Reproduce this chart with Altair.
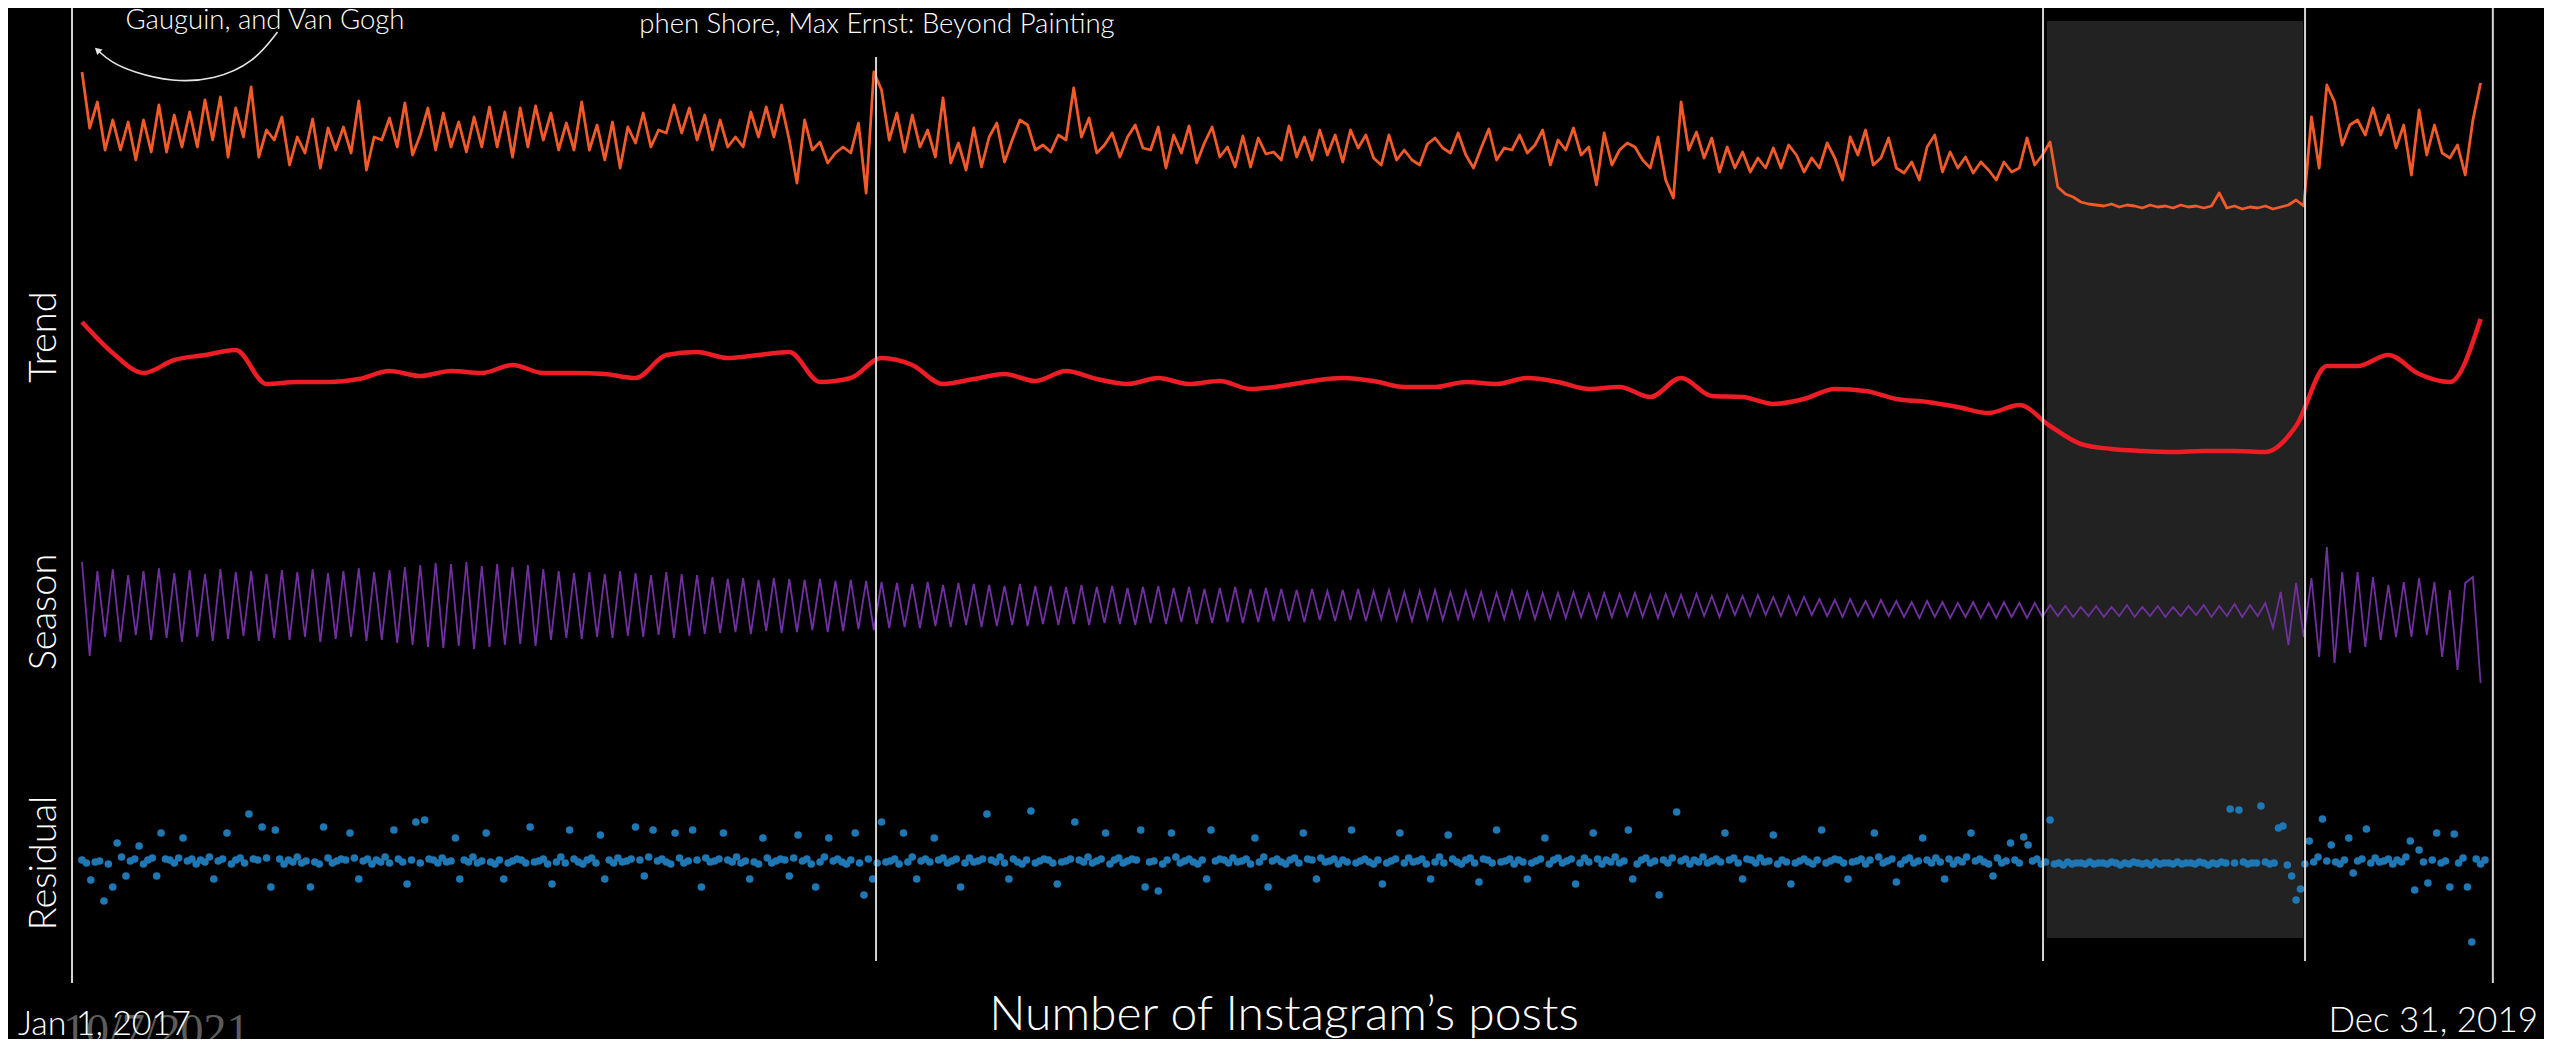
import altair as alt
import pandas as pd

# ---------------- data ----------------
START = pd.Timestamp("2017-01-01")

# observed daily posts, sampled every 3.5 days (index units: posts, arbitrary scale)
observed = [
    148, 92, 118, 70, 100, 70, 98, 60, 100, 68,
    115, 68, 105, 73, 108, 73, 120, 80, 123, 63,
    112, 83, 133, 63, 90, 80, 103, 55, 83, 67,
    101, 52, 92, 70, 93, 67, 119, 50, 83, 80,
    102, 73, 117, 65, 85, 112, 70, 107, 73, 98,
    68, 103, 73, 113, 73, 108, 63, 112, 73, 114,
    80, 107, 70, 97, 70, 118, 70, 95, 60, 98,
    52, 93, 77, 107, 73, 90, 87, 115, 87, 112,
    80, 105, 70, 100, 73, 83, 73, 108, 83, 113,
    83, 115, 80, 37, 100, 70, 78, 57, 67, 73,
    67, 97, 27, 148, 130,
    80, 107, 68, 105, 73, 90, 63, 122, 57, 77,
    50, 92, 53, 83, 97, 58, 80, 100, 95, 70,
    75, 68, 85, 80, 132, 83, 102, 67, 75, 87,
    63, 83, 95, 72, 70, 93, 52, 85, 67, 94,
    57, 77, 93, 63, 73, 53, 84, 53, 82, 66,
    68, 60, 94, 63, 83, 60, 90, 65, 85, 58,
    90, 72, 85, 62, 55, 85, 60, 70, 60, 55,
    76, 82, 72, 67, 87, 65, 52, 72, 91, 60,
    72, 70, 85, 67, 75, 90, 55, 80, 70, 92,
    65, 73, 35, 87, 55, 70, 77, 73, 60, 52,
    83, 40, 22, 118, 70,
    88, 62, 82, 48, 73, 52, 68, 48, 62, 52,
    72, 52, 75, 65, 48, 62, 52, 77, 62, 40,
    83, 65, 90, 55, 62, 82, 52, 47, 58, 40,
    73, 85, 48, 68, 52, 63, 47, 58, 50, 40,
    58, 48, 52, 82, 55, 65, 78, 33, 26, 23,
    18, 16, 15, 14, 16, 13, 15, 14, 12, 15,
    13, 14, 12, 15, 13, 14, 12, 14, 27, 12,
    14, 11, 13, 12, 14, 11, 13, 15, 20, 14,
    103, 52, 135, 118, 75, 95, 100, 85, 112, 85,
    105, 72, 95, 45, 110, 65, 95, 67, 62, 75,
    45, 100, 137,
]

# trend, sampled every 14 days
trend = [
    148, 117, 97, 110, 115, 120, 86, 88, 88, 91,
    99, 94, 99, 97, 105, 97, 97, 96, 92, 115,
    118, 112, 115, 118, 88, 92, 112, 105, 86, 91,
    96, 89, 99, 91, 86, 92, 86, 89, 81, 84,
    89, 92, 89, 83, 83, 88, 86, 92, 88, 81,
    83, 73, 92, 74, 73, 66, 71, 81, 79, 71,
    68, 63, 57, 65, 44, 26, 21, 19, 18, 19,
    19, 18, 44, 104, 104, 115, 96, 88, 151,
]

# weekly seasonal component, peaks / troughs every 3.5 days
season = [
    45, -49, 36, -30, 38, -35, 32, -28, 36, -33, 39, -31, 34, -35, 37, -30, 33, -34, 38, -32,
    35, -29, 36, -34, 33, -31, 37, -33, 35, -30, 38, -35, 34, -32, 36, -30, 39, -34, 35, -33, 37,
    -36, 40, -38, 42, -40, 44, -41, 43, -39, 45, -42, 41, -40, 43, -38, 40, -37, 42, -39, 38,
    -33, 36, -31, 34, -32, 35, -30, 33, -31, 36, -29, 34, -30, 32, -28, 35, -31, 33, -29, 32,
    -27, 30, -26, 28, -25, 29, -27, 27, -24, 29, -26, 28, -25, 27, -23, 28, -25, 26, -24, 27, -22, 26, -23,
    25, -21, 24, -20, 23, -21, 25, -19, 22, -20, 24, -18, 23, -20, 22, -19, 21, -18, 23, -19, 21, -17,
    21, -18, 20, -17, 22, -18, 20, -16, 21, -17, 19, -18, 20, -16, 21, -17, 19, -15, 20, -17,
    18, -16, 19, -15, 20, -16, 18, -15, 19, -14,
    18, -14, 17, -15, 18, -13, 16, -14, 17, -13, 18, -14, 16, -12, 17, -13, 15, -14, 16, -12,
    17, -13, 15, -12, 16, -11, 15, -13, 14, -12, 16, -11, 15, -12, 14,
    -11, 14, -11, 15, -10, 13, -11, 14, -10, 13, -9, 14, -10, 12, -11, 13, -9, 12, -10, 13,
    -9, 11, -10, 12, -8, 11, -9, 12, -8, 10, -9, 11, -8, 10, -8,
    8, -9, 7, -10, 8, -9, 6, -10, 7, -9, 6, -10, 5, -11, 6, -10, 5, -11, 4, -10,
    5, -11, 4, -11, 5, -10, 4, -11, 4, -10,
    2, -9, 1, -10, 0, -9, 1, -10, 0, -9, 2, -10, 0, -9, 1, -10, 0, -9, 1, -8,
    2, -10, 1, -9, 3, -10, 2, -9, 4,
    -21, 15, -38, 24, -30,
    29, -50, 60, -56, 35, -46, 35, -40, 30, -33, 22, -30, 25, -30, 29, -28, 25, -50, 17, -63,
    24, 30, -76,
]

# residuals, every 2 days
residual = [
    1, -2, -19, -1, 0, -40, -3, -26, 18, 4, -15, 0, 2, 15, -3, 1, 3, -15, 28, 2,
    1, -2, 3, 23, 0, 2, -3, 1, -1, 4, -18, 0, 2, 28, -3, 1, 3, -2, 47, 2,
    1, 34, 3, -26, 31, 2, -3, 1, -1, 4, -2, 0, -26, -1, -3, 34, 3, -2, 0, 2,
    1, 28, 3, -18, 0, 2, -3, 1, -1, 4, -2, 31, 2, -1, -23, 1, 39, -2, 41, 2,
    1, -2, 3, -1, 0, 23, -18, 1, -1, 4, -2, 0, 28, -1, -3, 1, -18, -2, 0, 2,
    1, -2, 34, -1, 0, 2, -3, -23, -1, 4, -2, 31, 2, -1, -3, 1, 3, -2, 26, -18,
    1, -2, 3, -1, 0, 2, 34, 1, -15, 4, 31, 0, 2, -1, -3, 28, 3, -2, 0, 31,
    1, -26, 3, -1, 0, 2, 28, 1, -1, 4, -2, 0, -18, -1, -3, 23, 3, -2, 0, 2,
    1, -15, 3, 26, 0, 2, -3, -26, -1, 4, 23, 0, 2, -1, -3, 1, 28, -2, -34, 2,
    -18, -2, 39, -1, 0, 2, -3, 28, -1, 4, -18, 0, 2, -1, 23, 1, 3, -2, 0, 2,
    -26, -2, 3, -1, 0, 2, 47, 1, -1, 4, -2, -18, 2, -1, -3, 1, 50, -2, 0, 2,
    1, -2, -23, -1, 0, 2, 39, 1, -1, 4, -2, 0, 2, 28, -3, 1, 3, -2, 0, 2,
    1, 31, -26, -1, 0, -30, -3, 1, 28, 4, -2, 0, 2, -1, -3, 1, -18, 31, 0, 2,
    1, -2, 3, -1, 0, 2, -3, 23, -1, 4, -26, 0, 2, -1, -3, 1, 3, -2, 28, 2,
    1, -18, 3, -1, 0, 2, -3, 1, -1, 31, -2, 0, 2, -1, -3, 1, -23, -2, 0, 2,
    28, -2, 3, -1, 0, 2, -3, -18, -1, 4, -2, 26, 2, -1, -3, 1, 3, -2, -21, 2,
    1, -2, 31, -1, 0, 2, -3, 1, -1, -18, -2, 0, 2, 23, -3, 1, 3, -2, 0, 2,
    -23, -2, 3, -1, 28, 2, -3, 1, -1, 4, -2, 0, 31, -18, -3, 1, 3, -2, 0, -34,
    1, -2, 3, 49, 0, 2, -3, 1, -1, 4, -2, 0, 2, -1, 28, 1, 3, -2, -18, 2,
    1, -2, 3, -1, 0, 26, -3, 1, -1, -23, -2, 0, 2, -1, -3, 1, 31, -2, 0, 2,
    1, -2, -18, -1, 0, 2, -3, 1, 28, 4, -2, 0, 2, -21, -3, 1, 3, -2, 0, 23,
    1, -2, 3, -1, -18, 2, -3, 1, -1, 4, 28, 0, 2, -1, -3, -15, 3, -2, 0, 18,
    1, -2, 24, 16, 0, 2, -3, -1, 41, -3, -2, -4, -1, -3, -2, -2, -3, -1, -3, -2,
    -2, -3, -1, -2, -4, -2, -3, -1, -2, -3, -2, -4, -1, -3, -2, -2, -3, -1, -3, -2,
    -2, -3, -1, -2, -4, -2, -3, -1, -2, 52, -2, 51, -1, -3, -2, -2, 55, -1, -3, -2,
    33, 35, -4, -15, -39, -28, -3, 20, -1, 4, 42, 0, 16, -1, -3, 1, 23, -12, 0, 2,
    32, -2, 3, -1, 0, 2, -3, 1, -1, 4, 20, -29, 11, -1, -22, 1, 28, -2, 0, -26,
    27, -2, 3, -26, -81, 2, -3, 1,
]

panel_labels = ["Trend", "Season", "Residual"]
start_label, end_label = "Jan 1, 2017", "Dec 31, 2019"
x_title = "Number of Instagram\u2019s posts"
annot_left = "Gauguin, and Van Gogh"
annot_mid = "phen Shore, Max Ernst: Beyond Painting"
stamp = "10/7/2021"

# annotation arrow path, in (day offset, posts) units
arrow_days = [89, 78, 60, 41, 23, 13, 7]
arrow_vals = [188, 157, 140, 138, 148, 158, 170]

outer_marks = ["2016-12-27 10:48", "2020-01-03 14:00"]
inner_marks = ["2019-06-12 19:00", "2019-10-10 02:00"]
mid_marks = ["2017-12-28 12:00"]
shade = ("2019-06-14 14:00", "2019-10-09 05:00")

# ---------------- tables ----------------
obs_df = pd.DataFrame({"date": pd.date_range(START, periods=len(observed), freq=pd.Timedelta(hours=84)),
                       "value": observed})
season_df = pd.DataFrame({"date": pd.date_range(START, periods=len(season), freq=pd.Timedelta(hours=84)),
                          "value": season})
trend_df = pd.DataFrame({"date": pd.date_range(START, periods=len(trend), freq=pd.Timedelta(days=14)),
                         "value": trend})
resid_df = pd.DataFrame({"date": pd.date_range(START, periods=len(residual), freq=pd.Timedelta(days=2)),
                         "value": residual})
arrow_df = pd.DataFrame({"date": [START + pd.Timedelta(days=d) for d in arrow_days], "value": arrow_vals,
                         "order": list(range(len(arrow_days)))})
head_df = arrow_df.tail(1)
outer_df = pd.DataFrame({"date": pd.to_datetime(outer_marks)})
inner_df = pd.DataFrame({"date": pd.to_datetime(inner_marks)})
mid_df = pd.DataFrame({"date": pd.to_datetime(mid_marks)})
shade_df = pd.DataFrame({"start": [pd.Timestamp(shade[0])], "end": [pd.Timestamp(shade[1])]})

# ---------------- scales & styles ----------------
W, H = 2536, 1031
FONT = "Lato"
WHITE = "#ffffff"
LINE_GRAY = "#d4d4d4"

x_scale = alt.Scale(domain=[alt.DateTime(year=2016, month=11, date=28, hours=7, minutes=26),
                            alt.DateTime(year=2020, month=1, date=26, hours=20, minutes=53)])


def xenc(field="date"):
    return alt.X(f"{field}:T", scale=x_scale, axis=None)


def yenc(lo, hi):
    return alt.Y("value:Q", scale=alt.Scale(domain=[lo, hi], nice=False, zero=False), axis=None)


OBS = (-819, 212)
TREND = (-569, 462)
SEASON = (-432, 599)
RESID = (-178, 853)

shade_layer = alt.Chart(shade_df).mark_rect(color="#222222").encode(
    x=xenc("start"), x2="end:T", y=alt.value(13), y2=alt.value(930))

obs_layer = alt.Chart(obs_df).mark_line(color="#f15a29", strokeWidth=2.8, strokeJoin="round").encode(
    x=xenc(), y=yenc(*OBS))

trend_layer = alt.Chart(trend_df).mark_line(color="#ee1c25", strokeWidth=4.5, interpolate="monotone").encode(
    x=xenc(), y=yenc(*TREND))

season_layer = alt.Chart(season_df).mark_line(color="#7030a0", strokeWidth=1.8).encode(
    x=xenc(), y=yenc(*SEASON))

resid_layer = alt.Chart(resid_df).mark_circle(color="#1f77b4", size=58, opacity=1).encode(
    x=xenc(), y=yenc(*RESID))

arrow_layer = alt.Chart(arrow_df).mark_line(color="#e6e6e6", strokeWidth=1.6, interpolate="basis").encode(
    x=xenc(), y=yenc(*OBS), order="order:Q")

head_layer = alt.Chart(head_df).mark_point(shape="triangle-up", filled=True, size=60, angle=313,
                                           color="#e6e6e6", opacity=1).encode(
    x=xenc(), y=yenc(*OBS))

outer_rules = alt.Chart(outer_df).mark_rule(color=LINE_GRAY, strokeWidth=2).encode(
    x=xenc(), y=alt.value(-1), y2=alt.value(975))
inner_rules = alt.Chart(inner_df).mark_rule(color=LINE_GRAY, strokeWidth=2).encode(
    x=xenc(), y=alt.value(-1), y2=alt.value(953))
mid_rule = alt.Chart(mid_df).mark_rule(color=LINE_GRAY, strokeWidth=2).encode(
    x=xenc(), y=alt.value(49), y2=alt.value(953))


def label(text, x, y, size, align="center", angle=0, color=WHITE, font=FONT, weight=300):
    return alt.Chart(pd.DataFrame({"t": [text]})).mark_text(
        align=align, baseline="alphabetic", fontSize=size, font=font, fontWeight=weight,
        color=color, angle=angle).encode(text="t:N", x=alt.value(x), y=alt.value(y))


texts = [
    label(annot_left, 257, 21, 27.5),
    label(annot_mid, 869, 25, 27.5),
    label(panel_labels[0], 48, 329, 38, angle=270),
    label(panel_labels[1], 48, 604, 38, angle=270),
    label(panel_labels[2], 48, 855, 38, angle=270),
    label(stamp, 55, 1038, 46, align="left", color="#5c5c5c", font="Liberation Serif", weight=400),
    label(start_label, 10, 1027, 34, align="left"),
    label(x_title, 1276, 1022, 48),
    label(end_label, 2530, 1024, 35, align="right"),
]

chart = alt.layer(
    shade_layer, obs_layer, trend_layer, season_layer, resid_layer,
    arrow_layer, head_layer, outer_rules, inner_rules, mid_rule, *texts
).resolve_scale(y="independent").properties(
    width=W, height=H, padding=0, background="black",
    autosize=alt.AutoSizeParams(type="none"),
).configure_view(strokeWidth=0)

chart.save("out.html", embed_options={"renderer": "svg", "actions": False})
